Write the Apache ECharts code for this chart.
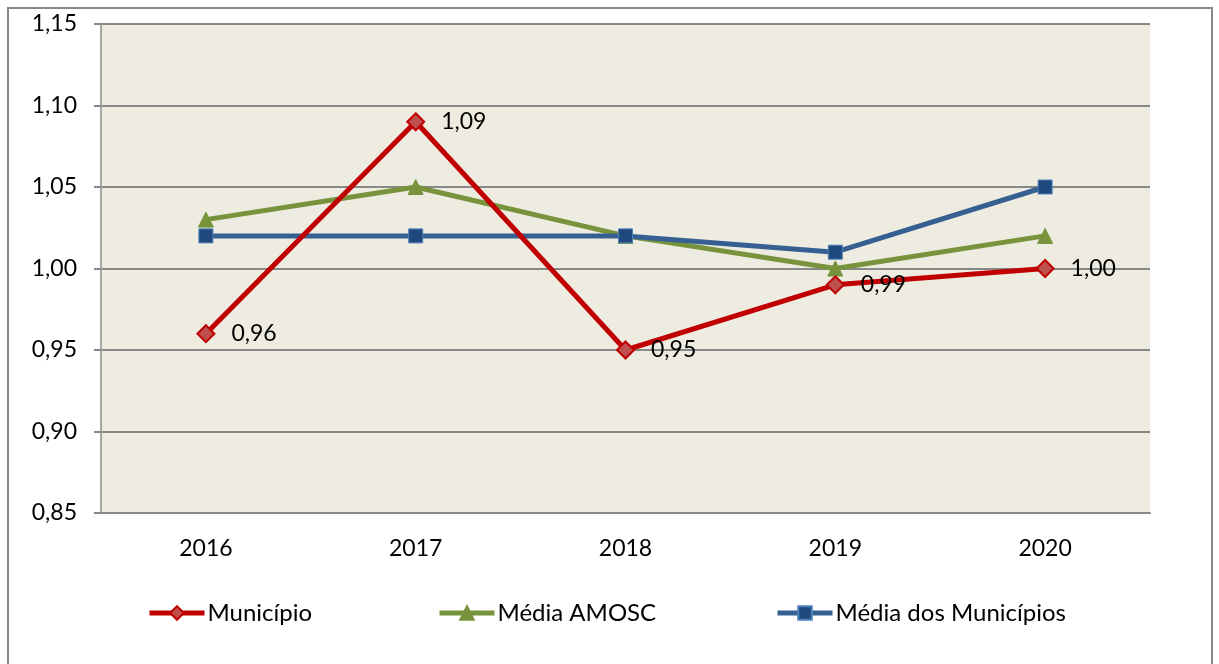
<!DOCTYPE html>
<html><head><meta charset="utf-8">
<script src="https://cdn.jsdelivr.net/npm/echarts@6/dist/echarts.min.js"></script>
<style>html,body{margin:0;padding:0;background:#fff}#c{width:1219px;height:664px}</style>
</head><body><div id="c"></div>
<script>
const categories = ['2016','2017','2018','2019','2020'];
const municipio = [0.96, 1.09, 0.95, 0.99, 1.00];
const mediaAmosc = [1.03, 1.05, 1.02, 1.00, 1.02];
const mediaMunicipios = [1.02, 1.02, 1.02, 1.01, 1.05];
const seriesNames = ['Município', 'Média AMOSC', 'Média dos Municípios'];
const yTicks = {min: 0.85, max: 1.15, interval: 0.05};

const FONT = 'Lato';
const FS = 23;
const fmt = v => v.toFixed(2).replace('.', ',');
const chart = echarts.init(document.getElementById('c'), null, {renderer: 'canvas'});
function legend(name, left) {
  return {data: [name], left: left, top: 601, padding: 0, itemWidth: 55, itemHeight: 17, itemGap: 0,
    lineStyle: {width: 5},
    textStyle: {fontFamily: FONT, fontSize: 24, color: '#000', padding: [0,0,0,-2]}};
}
chart.setOption({
  animation: false,
  backgroundColor: '#fff',
  graphic: [{type: 'rect', shape: {x: 8, y: 8, width: 1204, height: 700}, style: {fill: 'none', stroke: '#878787', lineWidth: 2}, silent: true, z: -1}],
  grid: {left: 101, right: 69, top: 24, bottom: 151, show: true, backgroundColor: '#EEECE1', borderWidth: 0},
  legend: [legend(seriesNames[0], 147), legend(seriesNames[1], 437), legend(seriesNames[2], 775)],
  xAxis: {type: 'category', data: categories, boundaryGap: true,
    axisLine: {show: true, lineStyle: {color: '#888', width: 2}}, axisTick: {show: false},
    axisLabel: {fontFamily: FONT, fontSize: FS, color: '#000', margin: 24}},
  yAxis: {type: 'value', min: yTicks.min, max: yTicks.max, interval: yTicks.interval,
    axisLine: {show: true, lineStyle: {color: '#A6A6A6', width: 2}},
    axisTick: {show: true, length: 7, lineStyle: {color: '#888', width: 2}},
    splitLine: {show: true, lineStyle: {color: '#888', width: 2}},
    axisLabel: {fontFamily: FONT, fontSize: FS, color: '#000', margin: 24, formatter: v => fmt(v)}},
  series: [
    {name: seriesNames[0], type: 'line', data: municipio, symbol: 'diamond', symbolSize: 17, z: 3,
      lineStyle: {color: '#C00000', width: 5}, itemStyle: {color: '#C0504D', borderColor: '#C00000', borderWidth: 2},
      label: {show: true, position: 'right', distance: 16, fontFamily: FONT, fontSize: FS, color: '#000', formatter: p => fmt(p.value)}},
    {name: seriesNames[1], type: 'line', data: mediaAmosc, symbol: 'triangle', symbolSize: 15, z: 2,
      lineStyle: {color: '#77933C', width: 5}, itemStyle: {color: '#77933C', borderColor: '#77933C', borderWidth: 1}},
    {name: seriesNames[2], type: 'line', data: mediaMunicipios, symbol: 'rect', symbolSize: 14, z: 2,
      lineStyle: {color: '#376092', width: 5}, itemStyle: {color: '#1F497D', borderColor: '#4F81BD', borderWidth: 1}}
  ]
});
</script></body></html>
